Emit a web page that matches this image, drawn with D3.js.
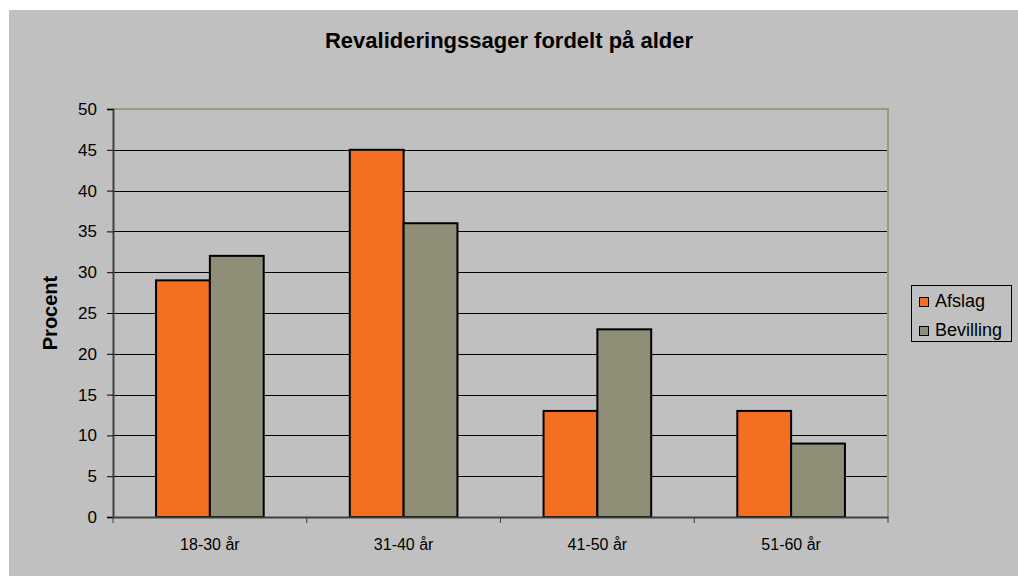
<!DOCTYPE html>
<html>
<head>
<meta charset="utf-8">
<script src="https://cdn.jsdelivr.net/npm/d3@7"></script>
<style>
  html, body { margin: 0; padding: 0; background: #fff; }
  svg { display: block; font-family: "Liberation Sans", Arial, sans-serif; }
</style>
</head>
<body>
<svg id="chart" width="1018" height="576"></svg>
<script>
// Data
var categories = ['18-30 år', '31-40 år', '41-50 år', '51-60 år'];
var seriesNames = ['Afslag', 'Bevilling'];
var afslag = [29, 45, 13, 13];
var bevilling = [32, 36, 23, 9];
var yTicks = [0, 5, 10, 15, 20, 25, 30, 35, 40, 45, 50];
var colors = ['#f47020', '#8f8f78'];

var svg = d3.select('#chart');
var W = 1018, H = 576;
var plot = { left: 113, top: 109, right: 888, bottom: 517 };
var FONT = '"Liberation Sans", Arial, sans-serif';

// chart area background
svg.append('rect').attr('x', 9).attr('y', 10).attr('width', W - 9).attr('height', H - 10)
  .attr('fill', '#c0c0c0');

var x = d3.scaleBand().domain(categories).range([plot.left, plot.right]);
var inner = d3.scaleBand().domain(seriesNames).range([0, x.bandwidth()]).paddingOuter(0.8).paddingInner(0);
var y = d3.scaleLinear().domain([0, 50]).range([plot.bottom, plot.top]);

// gridlines
svg.append('g').selectAll('line').data(yTicks.filter(function (t) { return t > 0 && t < 50; }))
  .join('line')
  .attr('x1', plot.left).attr('x2', plot.right)
  .attr('y1', function (d) { return Math.round(y(d)) + 0.5; })
  .attr('y2', function (d) { return Math.round(y(d)) + 0.5; })
  .attr('stroke', '#000').attr('stroke-width', 1);

// plot area border (top and right, olive)
svg.append('path')
  .attr('d', 'M' + plot.left + ',' + plot.top + 'H' + plot.right + 'V' + plot.bottom)
  .attr('fill', 'none').attr('stroke', '#9a9a82').attr('stroke-width', 2);

// bars
var rows = categories.map(function (c, i) { return { cat: c, vals: [afslag[i], bevilling[i]] }; });
var groups = svg.append('g').selectAll('g').data(rows).join('g')
  .attr('transform', function (d) { return 'translate(' + x(d.cat) + ',0)'; });
groups.selectAll('rect').data(function (d) {
  return d.vals.map(function (v, j) { return { name: seriesNames[j], v: v, j: j }; });
}).join('rect')
  .attr('x', function (d) { return inner(d.name); })
  .attr('width', inner.bandwidth())
  .attr('y', function (d) { return y(d.v); })
  .attr('height', function (d) { return y(0) - y(d.v); })
  .attr('fill', function (d) { return colors[d.j]; })
  .attr('stroke', '#000').attr('stroke-width', 2);

// y axis
var yAxis = d3.axisLeft(y).tickValues(yTicks).tickSize(6).tickPadding(10);
var gy = svg.append('g').attr('transform', 'translate(' + plot.left + ',0)').call(yAxis);
gy.select('.domain').attr('stroke', '#404038').attr('stroke-width', 2);
gy.selectAll('.tick line').attr('stroke', '#000');
gy.selectAll('.tick text').attr('font-size', 17).attr('fill', '#000').attr('font-family', FONT);

// x axis
var xAxis = d3.axisBottom(x).tickSize(0).tickPadding(22);
var gx = svg.append('g').attr('transform', 'translate(0,' + plot.bottom + ')').call(xAxis);
gx.select('.domain').attr('stroke', '#404038').attr('stroke-width', 2);
gx.selectAll('.tick text').attr('font-size', 16).attr('fill', '#000').attr('font-family', FONT);
// category separator ticks
gx.append('g').selectAll('line').data(categories.concat(['end'])).join('line')
  .attr('x1', function (d, i) { return i < categories.length ? x(d) : plot.right; })
  .attr('x2', function (d, i) { return i < categories.length ? x(d) : plot.right; })
  .attr('y1', 0).attr('y2', 6).attr('stroke', '#404038').attr('stroke-width', 1);

// title
svg.append('text').attr('x', 509).attr('y', 48).attr('text-anchor', 'middle')
  .attr('font-size', 22).attr('font-weight', 'bold').text('Revalideringssager fordelt på alder');

// y label
svg.append('text').attr('transform', 'translate(57,313) rotate(-90)').attr('text-anchor', 'middle')
  .attr('font-size', 20).attr('font-weight', 'bold').text('Procent');

// legend
var lg = svg.append('g').attr('transform', 'translate(911,285)');
lg.append('rect').attr('x', 0.5).attr('y', 0.5).attr('width', 100).attr('height', 56)
  .attr('fill', 'none').attr('stroke', '#000').attr('stroke-width', 1);
var items = lg.selectAll('g').data(seriesNames).join('g')
  .attr('transform', function (d, i) { return 'translate(0,' + (i * 29) + ')'; });
items.append('rect').attr('x', 8.5).attr('y', 12.5).attr('width', 9).attr('height', 9)
  .attr('fill', function (d, i) { return colors[i]; }).attr('stroke', '#000').attr('stroke-width', 1);
items.append('text').attr('x', 24).attr('y', 22).attr('font-size', 18).text(function (d) { return d; });
</script>
</body>
</html>
